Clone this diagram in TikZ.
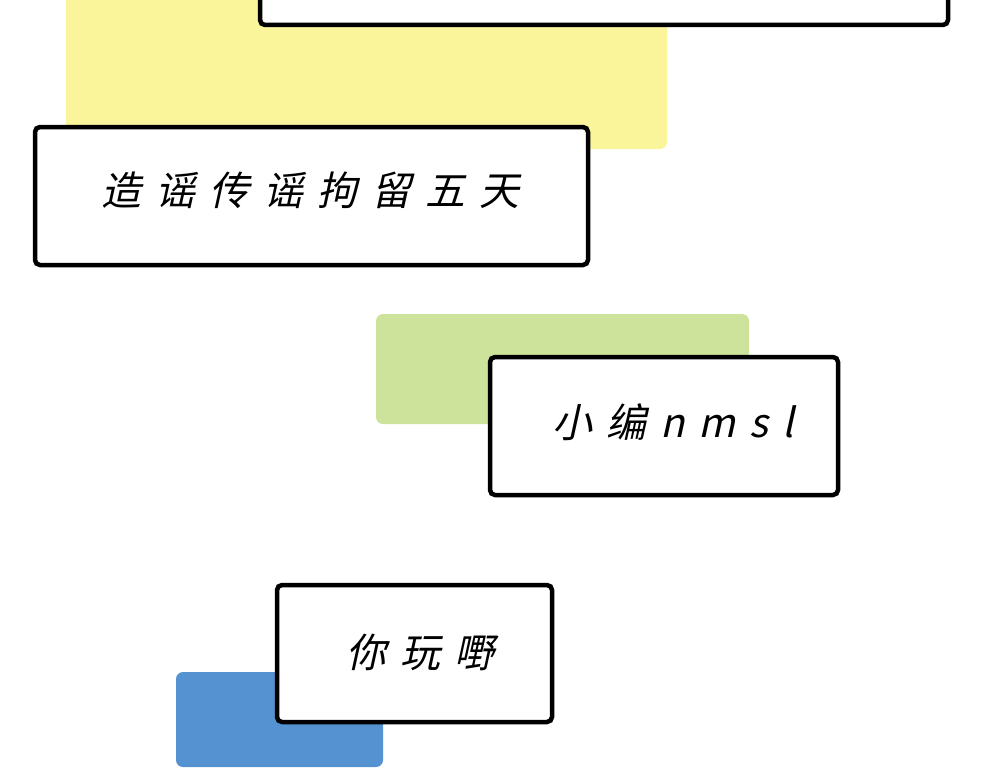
\documentclass[tikz,border=0pt]{standalone}
\usepackage{fontspec}
\newfontfamily\cjk[FakeSlant=0.22,LetterSpace=35]{Noto Sans CJK SC}
\definecolor{yel}{HTML}{FAF59A}
\definecolor{grn}{HTML}{CDE29A}
\definecolor{blu}{HTML}{5592D2}
\begin{document}
\begin{tikzpicture}[x=1pt,y=-1pt,
  box/.style={draw=black,line width=4.5pt,rounded corners=5pt,fill=white},
  bg/.style={rounded corners=7pt},
  lbl/.style={font=\cjk\fontsize{40}{44}\selectfont,text=black}]
\useasboundingbox (0,0) rectangle (1000,781);
\clip (0,0) rectangle (1000,781);
\fill[yel,bg] (66,-20) rectangle (667,149);
\draw[box] (260,-30) rectangle (948,25);
\draw[box] (35,127) rectangle (588,265);
\node[lbl] (t1) at (310,190) {造谣传谣拘留五天};
\fill[grn,bg] (376,314) rectangle (749,424);
\draw[box] (490,357) rectangle (838,495);
\node[lbl] (t2) at (673,422) {小编nmsl};
\fill[blu,bg] (176,672) rectangle (383,767);
\draw[box] (277,585) rectangle (552,722);
\node[lbl] (t3) at (420,652) {你玩嘢};
\end{tikzpicture}
\end{document}
